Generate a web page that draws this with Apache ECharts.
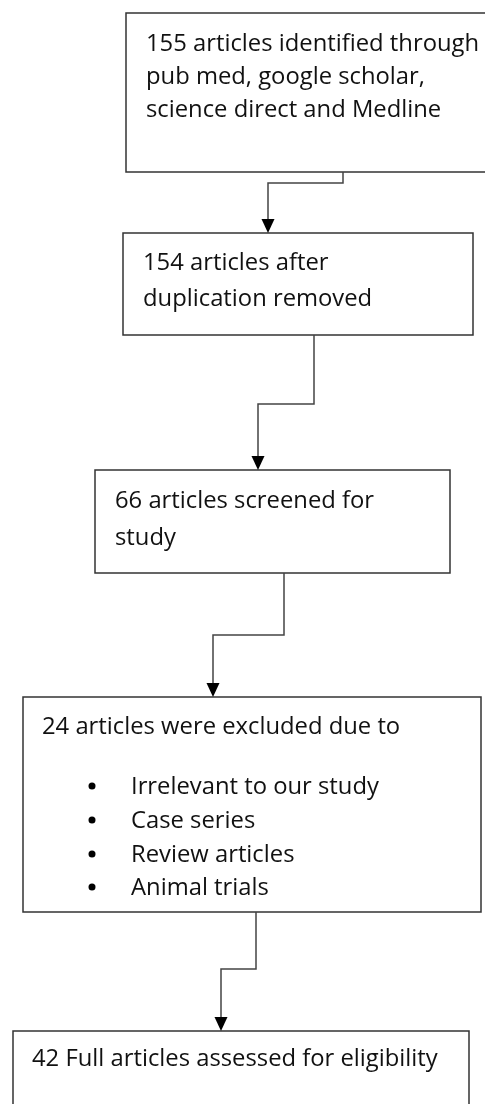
<!DOCTYPE html>
<html>
<head>
<meta charset="utf-8">
<script src="https://cdn.jsdelivr.net/npm/echarts@6/dist/echarts.min.js"></script>
<style>
  html, body { margin: 0; padding: 0; background: #fff; }
  #main { width: 485px; height: 1104px; }
</style>
</head>
<body>
<div id="main"></div>
<script>
// flowchart nodes: [left, top, right, bottom] in page units
var boxes = [
  [126, 13, 492, 172],
  [123, 233, 473, 335],
  [95, 470, 450, 573],
  [23, 697, 481, 912],
  [13, 1031, 469, 1112]
];

// text lines: [x, y, text]
var textLines = [
  [146, 44, '155 articles identified through'],
  [146, 77, 'pub med, google scholar,'],
  [146, 110, 'science direct and Medline'],
  [143, 263, '154 articles after'],
  [143, 299, 'duplication removed'],
  [115, 501, '66 articles screened for'],
  [115, 538, 'study'],
  [42, 727, '24 articles were excluded due to'],
  [131, 787, 'Irrelevant to our study'],
  [131, 821, 'Case series'],
  [131, 855, 'Review articles'],
  [131, 888, 'Animal trials'],
  [32, 1059, '42 Full articles assessed for eligibility']
];

// bullet dots: [x, y]
var bullets = [[92, 786], [92, 820], [92, 854], [92, 887]];

// elbow connectors, last point is the arrow tip
var connectors = [
  [[343, 172], [343, 183], [268, 183], [268, 233]],
  [[314, 335], [314, 404], [258, 404], [258, 470]],
  [[284, 573], [284, 635], [213, 635], [213, 697]],
  [[256, 912], [256, 969], [221, 969], [221, 1031]]
];

var FONT = '"Open Sans"';
var FONT_SIZE = 23.8;

var myChart = echarts.init(document.getElementById('main'));

myChart.setOption({
  animation: false,
  grid: { left: 0, right: 0, top: 0, bottom: 0 },
  xAxis: { type: 'value', min: 0, max: 485, show: false },
  yAxis: { type: 'value', min: 0, max: 1104, inverse: true, show: false },
  series: [
    {
      type: 'custom',
      name: 'boxes',
      data: boxes,
      renderItem: function (params, api) {
        var p0 = api.coord([api.value(0), api.value(1)]);
        var p1 = api.coord([api.value(2), api.value(3)]);
        return {
          type: 'rect',
          shape: { x: p0[0], y: p0[1], width: p1[0] - p0[0], height: p1[1] - p0[1] },
          style: { fill: '#fff', stroke: '#333', lineWidth: 1.5 }
        };
      }
    },
    {
      type: 'custom',
      name: 'connectors',
      data: connectors.map(function (c, i) { return [i]; }),
      renderItem: function (params, api) {
        var pts = connectors[params.dataIndex].map(function (p) { return api.coord(p); });
        var tip = pts[pts.length - 1];
        var ah = 14, aw = 6.5;
        var line = pts.slice(0, -1).concat([[tip[0], tip[1] - ah]]);
        return {
          type: 'group',
          children: [
            {
              type: 'polyline',
              shape: { points: line },
              style: { stroke: '#444', lineWidth: 1.5, fill: null }
            },
            {
              type: 'polygon',
              shape: { points: [[tip[0] - aw, tip[1] - ah], [tip[0] + aw, tip[1] - ah], [tip[0], tip[1]]] },
              style: { fill: '#000' }
            }
          ]
        };
      }
    },
    {
      type: 'custom',
      name: 'bullets',
      data: bullets,
      renderItem: function (params, api) {
        var c = api.coord([api.value(0), api.value(1)]);
        return {
          type: 'circle',
          shape: { cx: c[0], cy: c[1], r: 3.5 },
          style: { fill: '#000' }
        };
      }
    },
    {
      type: 'custom',
      name: 'text',
      data: textLines,
      renderItem: function (params, api) {
        var c = api.coord([api.value(0), api.value(1)]);
        return {
          type: 'text',
          x: c[0],
          y: c[1],
          style: {
            text: textLines[params.dataIndex][2],
            fill: '#111',
            font: FONT_SIZE + 'px ' + FONT,
            align: 'left',
            verticalAlign: 'middle'
          }
        };
      }
    }
  ]
});
</script>
</body>
</html>
